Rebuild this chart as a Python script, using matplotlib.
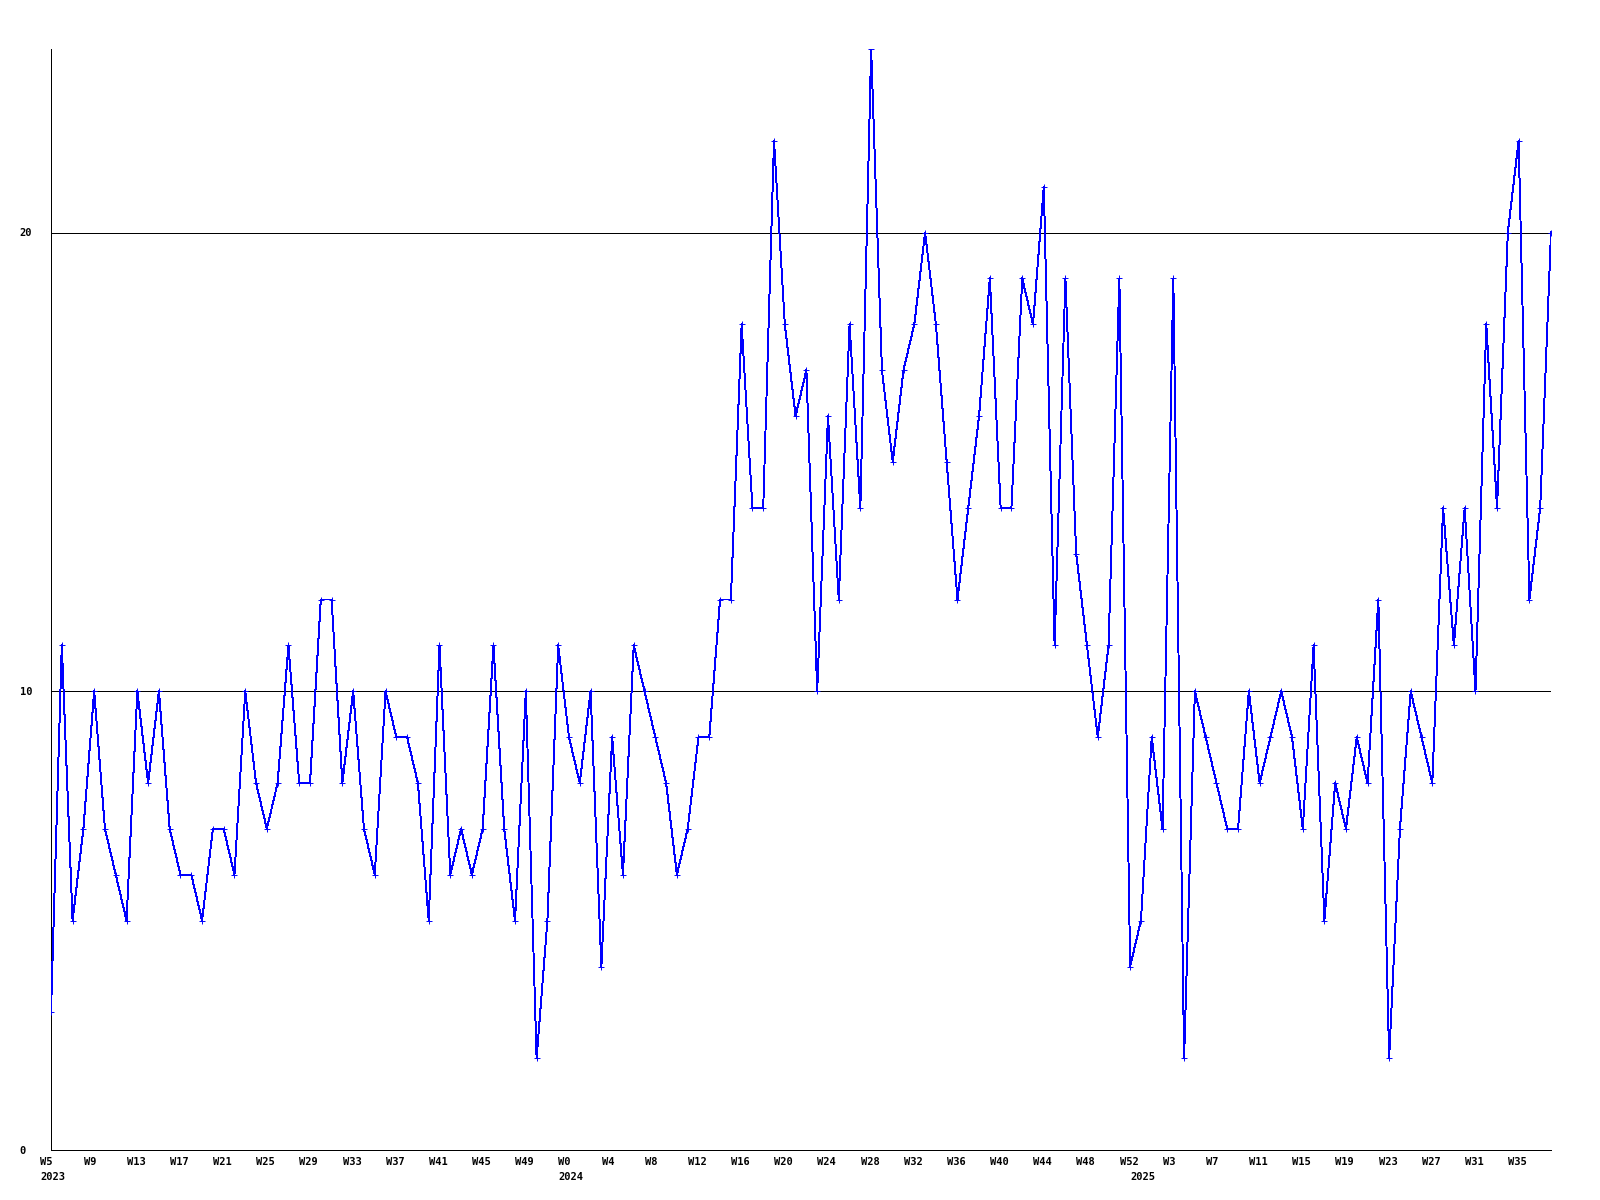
import matplotlib
matplotlib.use("Agg")
import matplotlib.pyplot as plt
from matplotlib.transforms import ScaledTranslation

# ---- data ----
values = [3, 11, 5, 7, 10, 7, 6, 5, 10, 8,
          10, 7, 6, 6, 5, 7, 7, 6, 10, 8,
          7, 8, 11, 8, 8, 12, 12, 8, 10, 7,
          6, 10, 9, 9, 8, 5, 11, 6, 7, 6,
          7, 11, 7, 5, 10, 2, 5, 11, 9, 8,
          10, 4, 9, 6, 11, 10, 9, 8, 6, 7,
          9, 9, 12, 12, 18, 14, 14, 22, 18, 16,
          17, 10, 16, 12, 18, 14, 24, 17, 15, 17,
          18, 20, 18, 15, 12, 14, 16, 19, 14, 14,
          19, 18, 21, 11, 19, 13, 11, 9, 11, 19,
          4, 5, 9, 7, 19, 2, 10, 9, 8, 7,
          7, 10, 8, 9, 10, 9, 7, 11, 5, 8,
          7, 9, 8, 12, 2, 7, 10, 9, 8, 14,
          11, 14, 10, 18, 14, 20, 22, 12, 14, 20]

week_labels = ["W5", "W9", "W13", "W17", "W21", "W25", "W29", "W33", "W37", "W41", "W45", "W49",
               "W0", "W4", "W8", "W12", "W16", "W20", "W24", "W28", "W32", "W36", "W40", "W44", "W48", "W52",
               "W3", "W7", "W11", "W15", "W19", "W23", "W27", "W31", "W35"]
label_step = 4
year_labels = ["2023", "2024", "2025"]
year_index = [0, 48, 101]
y_ticks = [0, 10, 20]

# ---- figure ----
W, H = 1600, 1200
fig = plt.figure(figsize=(16, 12), dpi=100)
left, right, top, bottom = 51, 1551, 49, 1150
ax = fig.add_axes([left / W, (H - bottom) / H, (right - left) / W, (bottom - top) / H])

x = list(range(len(values)))
ax.plot(x, values, color="#0000ff", linewidth=0.7, marker="+", markersize=4.5,
        markeredgewidth=0.7, antialiased=False, clip_on=True, zorder=3)

ax.set_xlim(0, len(values) - 1)
ax.set_ylim(0, 24)

for yv in (10, 20):
    ax.axhline(yv, color="black", linewidth=0.7, antialiased=False, zorder=2)

for s in ("top", "right"):
    ax.spines[s].set_visible(False)
for s in ("left", "bottom"):
    ax.spines[s].set_color("black")
    ax.spines[s].set_linewidth(0.7)
    ax.spines[s].set_antialiased(False)

font = dict(family="DejaVu Sans Mono", fontweight="bold", fontsize=7.5)

ax.set_yticks(y_ticks)
ax.set_yticklabels([str(v) for v in y_ticks], ha="left", **font)
ax.tick_params(axis="y", length=0, pad=22.5)
ax.set_xticks([])

off = ScaledTranslation(-10.5 / 100, -12 / 100, fig.dpi_scale_trans)
tr = ax.get_xaxis_transform() + off
for i, lab in enumerate(week_labels):
    ax.text(i * label_step, 0, lab, transform=tr, ha="left", va="center", **font)

off2 = ScaledTranslation(-10.5 / 100, -27 / 100, fig.dpi_scale_trans)
tr2 = ax.get_xaxis_transform() + off2
for idx, lab in zip(year_index, year_labels):
    ax.text(idx, 0, lab, transform=tr2, ha="left", va="center", **font)

fig.savefig("out.png", dpi=100, facecolor="white")
